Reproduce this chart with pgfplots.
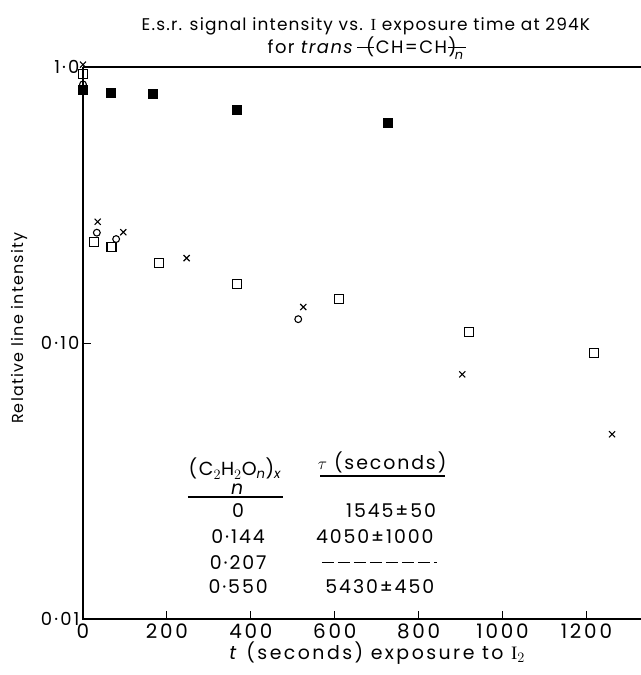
\documentclass[border=0pt]{standalone}
\usepackage{pgfplots}
\pgfplotsset{compat=1.18}
\usepackage{fontspec}
\setmainfont{Poppins}
\newfontfamily\serifI{Liberation Serif}
\usetikzlibrary{calc}
\newcommand\fs[2]{\fontsize{#1}{#1}\selectfont\addfontfeature{LetterSpace=#2}}
\newcommand\bond{\rule[0.33em]{0.95em}{0.9pt}}
\begin{document}
\begin{tikzpicture}
\begin{axis}[
  scale only axis,
  width=558bp, height=552bp,
  xmin=0, xmax=1330,
  ymode=log, ymin=0.01, ymax=1,
  xtick={0,200,400,600,800,1000,1200},
  xticklabels={0,200,400,600,800,1000,1200},
  ytick={0.01,0.1,1},
  yticklabels={0·01,0·10,1·0},
  yminorticks=false,
  tick align=inside,
  xtick pos=bottom, ytick pos=left,
  major tick length=8bp,
  every tick/.style={black, line width=1pt},
  axis line style={draw=none},
  clip=false,
  xticklabel style={font=\fs{20}{14}, yshift=-1bp},
  yticklabel style={font=\fs{18}{12}, xshift=0bp},
]
\coordinate (bl) at (rel axis cs:0,0);
\coordinate (tr) at (rel axis cs:1,1);
\draw[line width=1.1pt] (rel axis cs:0,1) -- (rel axis cs:0,0) -- (rel axis cs:1,0);
\draw[line width=1.1pt] (rel axis cs:0,1) -- (rel axis cs:1,1);

% filled squares
\addplot[only marks, mark=square*, mark size=4.5bp, black] coordinates {
 (0,0.83) (66,0.81) (165,0.80) (366,0.70) (727,0.63)};
% open squares
\addplot[only marks, mark=square, mark size=4.5bp, black, line width=1.1pt] coordinates {
 (0,0.94) (27,0.232) (68,0.222) (182,0.195) (366,0.163) (610,0.144) (921,0.110) (1217,0.092)};
% crosses
\addplot[only marks, mark=x, mark size=4.3bp, black, line width=1.1pt] coordinates {
 (0,1.02) (35,0.275) (96,0.252) (247,0.203) (525,0.135) (904,0.077) (1261,0.0467)};
% circles
\addplot[only marks, mark=o, mark size=3.4bp, black, line width=1.1pt] coordinates {
 (0,0.865) (33,0.251) (79,0.238) (513,0.122)};

% table
\begin{scope}[font=\fs{19}{10}]
\node at (rel axis cs:0.272,0.272) {(C$_2$H$_2$O$_{\mathit{n}}$)$_{\mathit{x}}$};
\node at (rel axis cs:0.278,0.236) {\textit{n}};
\draw[line width=1.1pt] (rel axis cs:0.188,0.221) -- (rel axis cs:0.358,0.221);
\node at (rel axis cs:0.278,0.197) {0};
\node at (rel axis cs:0.278,0.149) {0·144};
\node at (rel axis cs:0.278,0.103) {0·207};
\node at (rel axis cs:0.278,0.058) {0·550};
\node at (rel axis cs:0.536,0.283) {$\tau$ (seconds)};
\draw[line width=1.1pt] (rel axis cs:0.425,0.259) -- (rel axis cs:0.649,0.259);
\node at (rel axis cs:0.552,0.197) {1545±50};
\node at (rel axis cs:0.523,0.149) {4050±1000};
\draw[line width=1.1pt, dash pattern=on 12bp off 4bp] (rel axis cs:0.428,0.103) -- (rel axis cs:0.634,0.103);
\node at (rel axis cs:0.532,0.058) {5430±450};
\end{scope}

% title
\node[font=\fs{17}{7}, anchor=base] at (rel axis cs:0.507,1.067)
  {E.s.r. signal intensity vs. {\serifI I} exposure time at 294K};
\node[font=\fs{18}{8}, anchor=base] at (rel axis cs:0.507,1.024)
  {for \textit{trans}\,\bond\kern-0.45em(CH=CH)\kern-0.45em\bond\kern-0.6em\raisebox{-0.3em}{\fontsize{13}{13}\selectfont\textit{n}}};
% axis labels
\node[font=\fs{16}{8}, rotate=90] at (rel axis cs:-0.113,0.527) {Relative line intensity};
\node[font=\fs{19}{13}, anchor=base] at (rel axis cs:0.527,-0.0725) {\textit{t} (seconds) exposure to {\serifI I}$_2$};
\end{axis}
\pgfresetboundingbox
\path ($(bl)+(-83bp,-56bp)$) rectangle ($(tr)+(0bp,67bp)$);
\end{tikzpicture}
\end{document}
